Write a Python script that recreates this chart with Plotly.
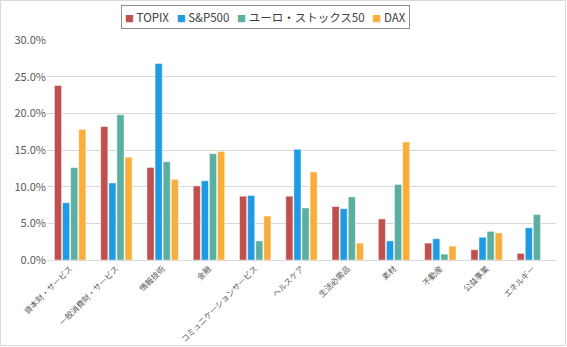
import plotly.graph_objects as go

categories = ["資本財・サービス", "一般消費財・サービス", "情報技術", "金融", "コミュニケーションサービス",
              "ヘルスケア", "生活必需品", "素材", "不動産", "公益事業", "エネルギー"]
topix = [23.8, 18.2, 12.6, 10.1, 8.7, 8.7, 7.3, 5.6, 2.3, 1.4, 0.9]
sp500 = [7.8, 10.5, 26.8, 10.8, 8.8, 15.1, 7.0, 2.6, 2.9, 3.1, 4.4]
euro50 = [12.6, 19.8, 13.4, 14.5, 2.6, 7.1, 8.6, 10.3, 0.8, 3.9, 6.2]
dax = [17.8, 14.0, 11.0, 14.8, 6.0, 12.0, 2.3, 16.1, 1.9, 3.7, None]

series = [("TOPIX", topix, "#C0504D"), ("S&P500", sp500, "#1E9BE2"),
          ("ユーロ・ストックス50", euro50, "#5BAFA0"), ("DAX", dax, "#F9AE3B")]

W, H = 567, 347
L, R, T, B = 47, 11, 40, 87
pw, ph = W - L - R, H - T - B

fig = go.Figure()
for name, vals, col in series:
    fig.add_trace(go.Bar(
        x=categories, y=[v / 100 if v is not None else None for v in vals], name=name,
        marker=dict(color=col, line=dict(color="rgba(255,255,255,0.45)", width=1)),
        showlegend=False,
    ))

legend_text = "&nbsp;&nbsp;&nbsp;".join(
    f"<span style='color:{col};font-size:9px'>■</span> {name}" for name, _, col in series)

font = "Noto Sans CJK JP, Noto Sans, sans-serif"
fig.update_layout(
    width=W, height=H,
    margin=dict(l=L, r=R, t=T, b=B, pad=0),
    paper_bgcolor="white", plot_bgcolor="white",
    barmode="group", bargap=0.3, bargroupgap=0.12,
    font=dict(family=font, size=11, color="#595959"),
    xaxis=dict(tickangle=-45, showgrid=False, showline=True, linecolor="#d9d9d9",
               linewidth=1, ticks="", automargin=False,
               tickfont=dict(size=8, color="#595959")),
    yaxis=dict(range=[0, 0.30], dtick=0.05, tickformat=".1%", showgrid=True,
               gridcolor="#d9d9d9", gridwidth=1, zeroline=False, ticks="", automargin=False,
               tickfont=dict(size=11, color="#595959")),
    annotations=[dict(text=legend_text, xref="paper", yref="paper",
                      x=(265 - L) / pw, y=1 + (T - 17) / ph, xanchor="center", yanchor="middle",
                      showarrow=False, bordercolor="#8c8c8c", borderwidth=1, borderpad=3,
                      font=dict(size=11.5, color="#404040", family=font))],
    shapes=[dict(type="rect", xref="paper", yref="paper",
                 x0=-(L - 0.5) / pw, x1=1 + (R - 1.5) / pw,
                 y0=-(B - 1.5) / ph, y1=1 + (T - 0.5) / ph,
                 line=dict(color="#d9d9d9", width=1))],
)
fig.write_html("out.html")
